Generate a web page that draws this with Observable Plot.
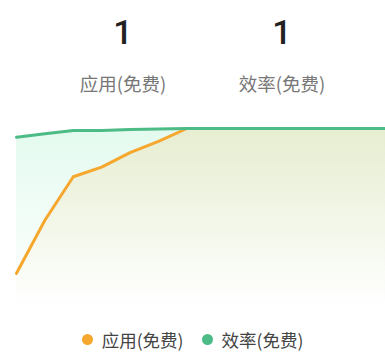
<!DOCTYPE html>
<html>
<head>
<meta charset="utf-8">
<script src="https://cdn.jsdelivr.net/npm/d3@7"></script>
<script src="https://cdn.jsdelivr.net/npm/@observablehq/plot@0.6"></script>
<style>
  body { margin: 0; background: #fff; font-family: Roboto, "Noto Sans CJK SC", sans-serif; }
  #wrap { position: relative; width: 385px; height: 352px; }
  .num { position: absolute; top: 12px; width: 120px; text-align: center; font-size: 34px; font-weight: 500; color: #222; line-height: 40px; }
  .lab { position: absolute; top: 70px; width: 140px; text-align: center; font-size: 18.5px; color: #777; line-height: 26px; font-family: "Noto Sans CJK SC", sans-serif; }
  #chart { position: absolute; top: 110px; left: 0; }
  #legend { position: absolute; top: 327px; left: 0; width: 385px; display: flex; justify-content: center; align-items: center; font-size: 17.5px; color: #444; line-height: 25px; font-family: "Noto Sans CJK SC", sans-serif; }
  .sw { display: inline-block; width: 11px; height: 11px; border-radius: 50%; margin-right: 9px; }
  .item { display: flex; align-items: center; margin: 0 9px; }
</style>
</head>
<body>
<div id="wrap">
  <div id="head"></div>
  <div id="chart"></div>
  <div id="legend"></div>
</div>
<script>
const seriesNames = ["应用(免费)", "效率(免费)"];
const seriesColors = ["#f5a72e", "#4dbb85"];
const currentValues = [1, 1];
const days = [0,1,2,3,4,5,6,7,8,9,10,11,12,13];
const appRank = [10, 6.7, 4, 3.4, 2.5, 1.8, 1, 1, 1, 1, 1, 1, 1, 1];
const effRank = [1.55, 1.33, 1.12, 1.12, 1.06, 1.03, 1, 1, 1, 1, 1, 1, 1, 1];

// header
const head = document.getElementById("head");
const centers = [123, 282];
seriesNames.forEach((n, i) => {
  const num = document.createElement("div");
  num.className = "num";
  num.style.left = (centers[i] - 60) + "px";
  num.textContent = currentValues[i];
  head.appendChild(num);
  const lab = document.createElement("div");
  lab.className = "lab";
  lab.style.left = (centers[i] - 70) + "px";
  lab.textContent = n;
  head.appendChild(lab);
});

// legend
const legend = document.getElementById("legend");
seriesNames.forEach((n, i) => {
  const it = document.createElement("span");
  it.className = "item";
  it.innerHTML = `<span class="sw" style="background:${seriesColors[i]}"></span>${n}`;
  legend.appendChild(it);
});

const app = days.map((d, i) => ({d, v: appRank[i]}));
const eff = days.map((d, i) => ({d, v: effRank[i]}));

const defs = () => {
  const g = d3.create("svg:defs");
  const mk = (id, color, op) => {
    const lg = g.append("linearGradient").attr("id", id).attr("x1", 0).attr("y1", 0).attr("x2", 0).attr("y2", 1);
    lg.append("stop").attr("offset", "0%").attr("stop-color", color).attr("stop-opacity", op);
    lg.append("stop").attr("offset", "100%").attr("stop-color", color).attr("stop-opacity", 0);
  };
  mk("gEff", "rgb(60,220,140)", 0.14);
  mk("gApp", "rgb(245,166,35)", 0.15);
  return g.node();
};

const chart = Plot.plot({
  width: 385,
  height: 210,
  marginLeft: 16,
  marginRight: 0,
  marginTop: 18,
  marginBottom: 15,
  x: {domain: [0, 13], axis: null},
  y: {domain: [12, 1], axis: null},
  marks: [
    defs,
    Plot.areaY(eff, {x: "d", y1: 12, y2: "v", fill: "url(#gEff)"}),
    Plot.areaY(app, {x: "d", y1: 12, y2: "v", fill: "url(#gApp)"}),
    Plot.line(app, {x: "d", y: "v", stroke: seriesColors[0], strokeWidth: 3}),
    Plot.line(eff, {x: "d", y: "v", stroke: seriesColors[1], strokeWidth: 3})
  ]
});
document.getElementById("chart").appendChild(chart);
</script>
</body>
</html>
